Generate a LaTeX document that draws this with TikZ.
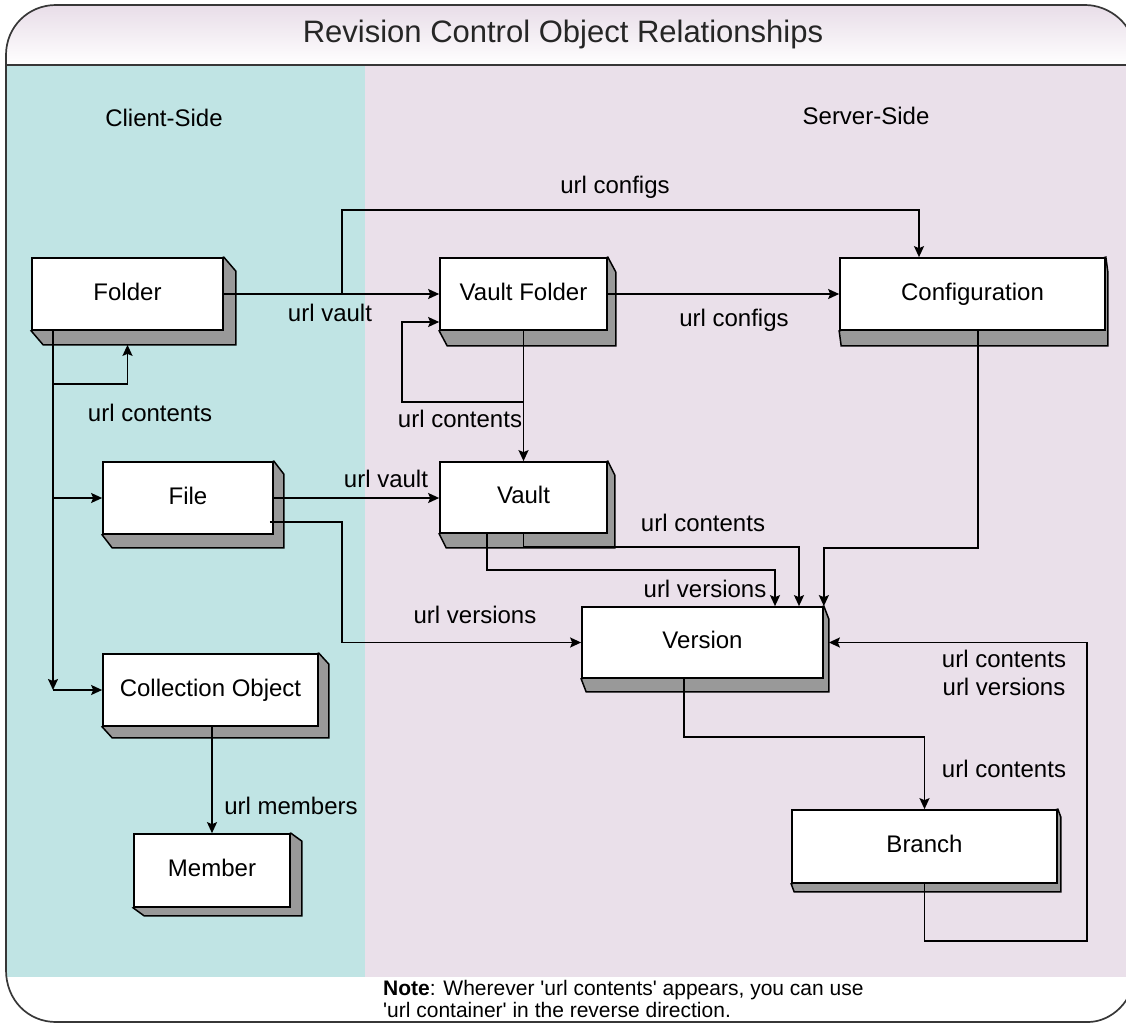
\documentclass[tikz,border=0pt]{standalone}
\usepackage{fontspec}
\setmainfont{Liberation Sans}[Ligatures=TeXOff]
\usetikzlibrary{arrows.meta,calc}
\definecolor{cyanbg}{RGB}{192,228,228}
\definecolor{pinkbg}{RGB}{234,224,234}
\definecolor{hdrtop}{RGB}{230,218,230}
\definecolor{shadegray}{RGB}{153,153,153}
\definecolor{framec}{RGB}{55,55,55}
\pgfdeclarelayer{back}
\pgfdeclarelayer{shadows}
\pgfsetlayers{back,shadows,main}
\tikzset{
  box/.style={draw=black, fill=white, line width=1.7pt, inner sep=0pt,
    text height=17pt, text depth=5pt, font=\fontsize{24}{28}\selectfont},
  lbl/.style={inner sep=0pt, font=\fontsize{24}{28}\selectfont},
  conn/.style={draw=black, line width=1.7pt},
  arr/.style={conn, -{Stealth[length=11pt,width=10pt,inset=2pt]}},
  shadowpoly/.style={fill=shadegray, draw=black, line width=1.5pt, line join=miter},
}
\newcommand\mkshadow[3]{%
  \begin{pgfonlayer}{shadows}
  \path[shadowpoly] (#1.south west) -- ($(#1.south west)+(#2,#3)$) -- ($(#1.south east)+(#2,#3)$) -- ($(#1.north east)+(#2,#3)$) -- (#1.north east) -- cycle;
  \end{pgfonlayer}}
\begin{document}
\begin{tikzpicture}[x=1pt,y=-1pt]
\useasboundingbox (0,0) rectangle (1126,1024);
\clip (0,0) rectangle (1126,1024);
% ---------- frame and backgrounds
\begin{pgfonlayer}{back}
\begin{scope}
\clip (6,55) .. controls (6,27) and (28,5) .. (56,5) -- (1085,5) .. controls (1110,5) and (1134,25) .. (1134,50) -- (1134,975) .. controls (1134,1000) and (1112,1022) .. (1088,1022) -- (56,1022) .. controls (28,1022) and (6,1000) .. (6,970) -- cycle;
\fill[white] (0,0) rectangle (1140,1030);
\fill[cyanbg] (0,65) rectangle (365,977);
\fill[pinkbg] (365,65) rectangle (1140,977);
\shade[top color=hdrtop, bottom color=white] (0,0) rectangle (1140,65);
\end{scope}
\draw[framec, line width=1.7pt] (6,55) .. controls (6,27) and (28,5) .. (56,5) -- (1085,5) .. controls (1110,5) and (1134,25) .. (1134,50) -- (1134,975) .. controls (1134,1000) and (1112,1022) .. (1088,1022) -- (56,1022) .. controls (28,1022) and (6,1000) .. (6,970) -- cycle;
\draw[framec, line width=1.7pt] (6,65) -- (1134,65);
\end{pgfonlayer}
% ---------- titles
\node[font=\fontsize{31}{36}\selectfont, text=black!85] (title) at (563,34) {Revision Control Object Relationships};
\node[lbl] (client) at (164,118) {Client-Side};
\node[lbl] (server) at (866,116) {Server-Side};
% ---------- boxes
\node[box, minimum width=191pt, minimum height=72pt] (folder) at (127.5,294) {Folder};
\node[box, minimum width=167pt, minimum height=72pt] (vfolder) at (523.5,294) {Vault Folder};
\node[box, minimum width=265pt, minimum height=72pt] (config) at (972.5,294) {Configuration};
\node[box, minimum width=170pt, minimum height=72pt] (file) at (188,498) {File};
\node[box, minimum width=167pt, minimum height=71pt] (vault) at (523.5,497.5) {Vault};
\node[box, minimum width=215pt, minimum height=72pt] (coll) at (210.5,690) {Collection Object};
\node[box, minimum width=156pt, minimum height=73pt] (member) at (212,870.5) {Member};
\node[box, minimum width=241pt, minimum height=71pt] (version) at (702.5,642.5) {Version};
\node[box, minimum width=265pt, minimum height=73pt] (branch) at (924.5,846.5) {Branch};
\mkshadow{folder}{12}{14}
\mkshadow{vfolder}{8}{15}
\mkshadow{config}{2}{15}
\mkshadow{file}{10}{13}
\mkshadow{vault}{7}{14}
\mkshadow{coll}{10}{11}
\mkshadow{member}{11}{8}
\mkshadow{version}{5}{13}
\mkshadow{branch}{3}{8}
% ---------- connectors
\draw[arr] (folder.east) -- (vfolder.west);
\coordinate (cfgA) at (342,294);
\coordinate (cfgB) at (919,210);
\draw[arr] (cfgA) |- (cfgB) -- (cfgB |- config.north);
\draw[arr] (vfolder.east) -- (config.west);
\draw[arr] (vfolder.south) -- (vault.north);
\coordinate (vfl) at (523.5,402);
\coordinate (vflB) at (402,322);
\draw[arr] (vfl) -| (vflB) -- ([yshift=-28pt]vfolder.west);
\coordinate (ftop) at (53,330);
\coordinate (fbot) at (53,690);
\coordinate (ffile) at (53,498);
\coordinate (floop) at (53,384);
\draw[arr] (ftop) -- (fbot);
\draw[arr] (fbot) -- (coll.west);
\draw[arr] (ffile) -- (file.west);
\draw[arr] (floop) -| ([yshift=-14pt]folder.south);
\draw[arr] (file.east) -- (vault.west |- file.east);
\coordinate (fvA) at (342,522);
\draw[arr] ([yshift=-24pt,xshift=-4pt]file.east) -- (fvA) |- (version.west);
\coordinate (vvA) at (775,570);
\draw[arr] ([xshift=-36.5pt]vault.south) |- (vvA) -- (vvA |- version.north);
\coordinate (vcA) at (799,547);
\draw[arr] (vault.south) |- (vcA) -- (vcA |- version.north);
\draw[arr] ([xshift=5.5pt]config.south) -- ++(0,217) -| (version.north east);
\draw[arr] ([xshift=-18.5pt]version.south) -- ++(0,58) -| (branch.north);
\coordinate (bvA) at (1087,642.5);
\draw[arr] (branch.south) -- ++(0,57) -| (bvA) -- ([xshift=5pt]version.east);
\draw[arr] (coll.south -| member.north) -- (member.north);
% ---------- labels
\node[lbl] (lcfg1) at (615,187) {url configs};
\node[lbl] (lvault1) at (330,313) {url vault};
\node[lbl] (lcfg2) at (734,320) {url configs};
\node[lbl] (lcont1) at (150,413) {url contents};
\node[lbl] (lcont2) at (460,419) {url contents};
\node[lbl] (lvault2) at (386,479) {url vault};
\node[lbl] (lcont3) at (703,523) {url contents};
\node[lbl] (lver1) at (705,589) {url versions};
\node[lbl] (lver2) at (475,615) {url versions};
\node[lbl, align=center] (lcv) at (1004,673) {url contents\\url versions};
\node[lbl] (lcont4) at (1004,769) {url contents};
\node[lbl] (lmem) at (291,806) {url members};
% ---------- note
\node[anchor=base west, inner sep=0pt, font=\fontsize{21}{22}\selectfont] (note1) at (383,995) {\textbf{Note}: Wherever 'url contents' appears, you can use};
\node[anchor=base west, inner sep=0pt, font=\fontsize{21}{22}\selectfont] (note2) at (383,1017) {'url container' in the reverse direction.};
\end{tikzpicture}
\end{document}
